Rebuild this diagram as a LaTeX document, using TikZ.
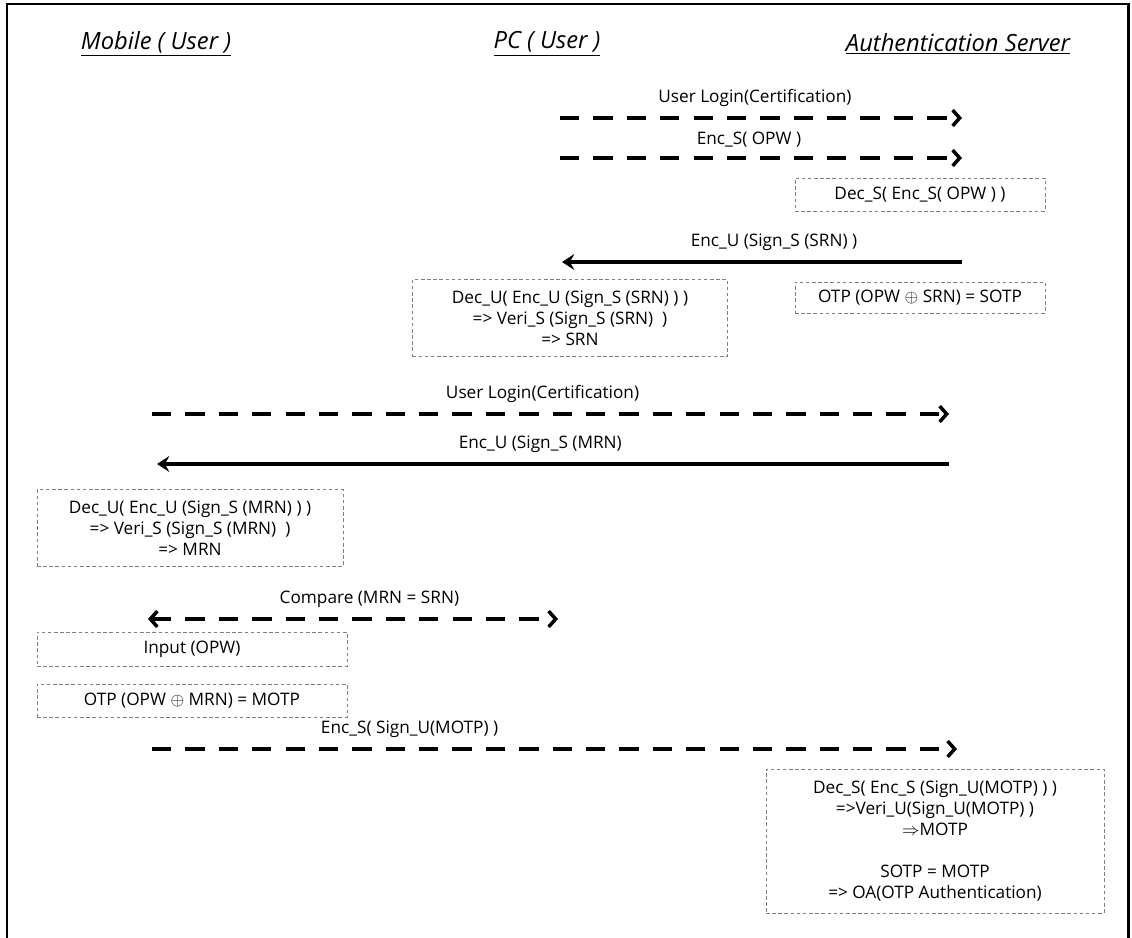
\documentclass[tikz,border=0pt]{standalone}
\usepackage{fontspec}
\setmainfont{Open Sans}
\usetikzlibrary{arrows.meta}

\begin{document}
\begin{tikzpicture}[x=0.02cm,y=-0.02cm,
  actor/.style={font=\fontsize{13.5}{16}\selectfont\itshape},
  note/.style={draw=gray,line width=0.4pt,dash pattern=on 2pt off 1.5pt,align=center,
    inner sep=0pt,font=\fontsize{9.8}{11.9}\selectfont},
  dmsg/.style={line width=2pt,dash pattern=on 11pt off 8pt,
    -{Straight Barb[length=4pt,width=9pt]}},
  smsg/.style={line width=2pt,-{Stealth[length=7pt,width=9pt,inset=2.5pt]}},
  lbl/.style={above=2pt,font=\fontsize{9.8}{11}\selectfont}]

  \useasboundingbox (0,0) rectangle (1132,937);
  % outer frame
  \draw[line width=1.7pt] (7,945) -- (7,4) -- (1128,4) -- (1128,945);

  % actors
  \node[actor] (mob) at (156,44) {\underline{Mobile ( User )}};
  \node[actor] (pc) at (547,44) {\underline{PC ( User )}};
  \node[actor] (as) at (958,44) {\underline{Authentication Server}};

  % end points of the messages
  \coordinate (pc1) at (560,118);  \coordinate (as1) at (962,118);
  \coordinate (pc2) at (560,158);  \coordinate (as2) at (962,158);
  \coordinate (as3) at (962,262);  \coordinate (pc3) at (562,262);
  \coordinate (mob4) at (152,414); \coordinate (as4) at (949,414);
  \coordinate (as5) at (949,464);  \coordinate (mob5) at (157,464);
  \coordinate (mob6) at (148,619); \coordinate (pc6) at (558,619);
  \coordinate (mob7) at (152,749); \coordinate (as7) at (957,749);

  % notes
  \node[note,minimum width=5cm,minimum height=0.66cm] (decs) at (920,194.5)
    {Dec\_S( Enc\_S( OPW ) )};
  \node[note,minimum width=6.3cm,minimum height=1.54cm] (decsrn) at (570,318)
    {Dec\_U( Enc\_U (Sign\_S (SRN) ) )\\=> Veri\_S (Sign\_S (SRN)\ \ )\\=> SRN};
  \node[note,minimum width=5cm,minimum height=0.62cm] (sotp) at (920,297.5)
    {OTP (OPW $\oplus$ SRN) = SOTP};
  \node[note,minimum width=6.12cm,minimum height=1.54cm] (decmrn) at (190,528)
    {Dec\_U( Enc\_U (Sign\_S (MRN) ) )\\=> Veri\_S (Sign\_S (MRN)\ \ )\\=> MRN};
  \node[note,minimum width=6.2cm,minimum height=0.68cm] (inp) at (192,649)
    {Input (OPW)};
  \node[note,minimum width=6.2cm,minimum height=0.66cm] (motp) at (192,700.5)
    {OTP (OPW $\oplus$ MRN) = MOTP};
  \node[note,minimum width=6.76cm,minimum height=2.88cm] (decmotp) at (935,841)
    {Dec\_S( Enc\_S (Sign\_U(MOTP) ) )\\=>Veri\_U(Sign\_U(MOTP) )\\$\Rightarrow$MOTP\\[11.9pt]
     SOTP = MOTP\\=> OA(OTP Authentication)};

  % messages
  \path[dmsg] (pc1) edge node[lbl,pos=0.485]{User Login(Certification)} (as1)
    (pc2) edge node[lbl,pos=0.47]{Enc\_S( OPW )} (as2);
  \path[smsg] (as3) edge node[lbl,pos=0.47]{Enc\_U (Sign\_S (SRN) )} (pc3);
  \path[dmsg] (mob4) edge node[lbl,pos=0.49]{User Login(Certification)} (as4);
  \path[smsg] (as5) edge node[lbl,pos=0.516]{Enc\_U (Sign\_S (MRN)} (mob5);
  \path[dmsg,{Straight Barb[length=4pt,width=9pt]}-{Straight Barb[length=4pt,width=9pt]}]
    (mob6) edge node[lbl,pos=0.54]{Compare (MRN = SRN)} (pc6);
  \path[dmsg] (mob7) edge node[lbl,pos=0.32]{Enc\_S( Sign\_U(MOTP) )} (as7);
\end{tikzpicture}
\end{document}
